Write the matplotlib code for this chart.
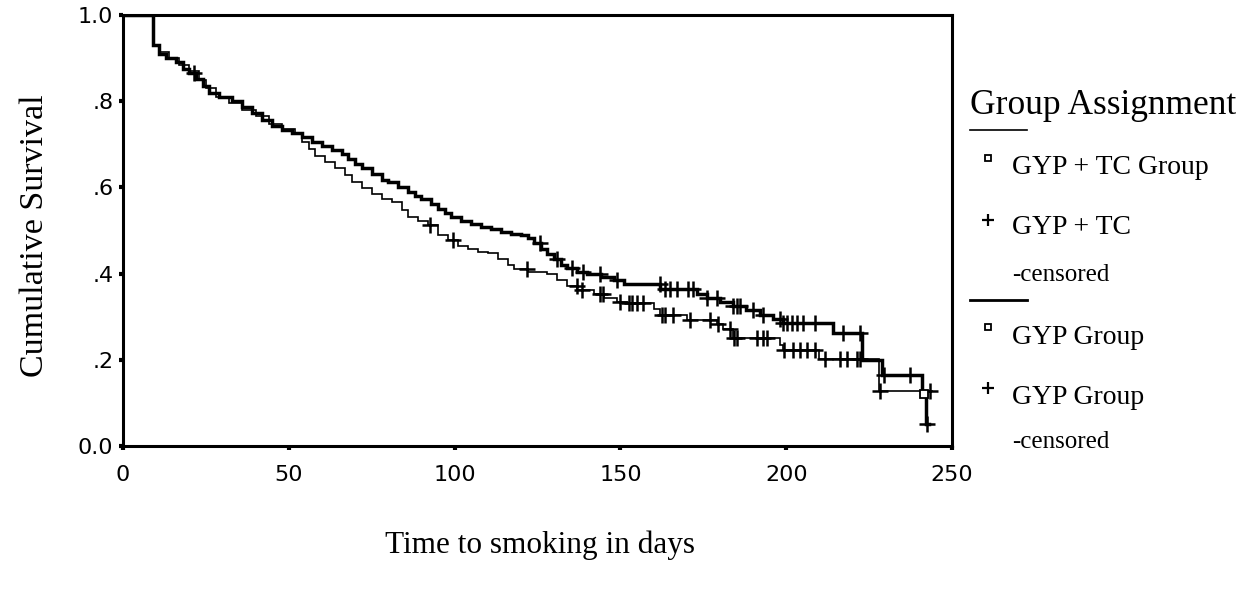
import numpy as np
import matplotlib
matplotlib.use('Agg')
import matplotlib.pyplot as plt
from matplotlib.lines import Line2D

# Kaplan-Meier steps: day of event, cumulative survival after it
gyp_tc_days = [0, 9, 11, 14, 17, 20, 23, 25, 28, 32, 36, 40, 44, 48, 52, 54, 56, 58,
               61, 64, 67, 69, 72, 75, 78, 81, 84, 86, 89, 92, 95, 98, 101, 104, 107,
               110, 113, 116, 118, 122, 128, 131, 134, 137, 142, 145, 149, 152, 160,
               162, 170, 179, 181, 184, 198, 199, 210, 228]
gyp_tc_surv = [1.0, 0.93, 0.915, 0.90, 0.885, 0.87, 0.85, 0.83, 0.81, 0.795, 0.78,
               0.765, 0.748, 0.735, 0.725, 0.705, 0.69, 0.672, 0.658, 0.645, 0.628,
               0.612, 0.598, 0.585, 0.572, 0.565, 0.548, 0.532, 0.522, 0.512, 0.49,
               0.478, 0.465, 0.456, 0.45, 0.447, 0.435, 0.42, 0.41, 0.404, 0.40,
               0.385, 0.372, 0.362, 0.352, 0.343, 0.335, 0.332, 0.318, 0.304, 0.292,
               0.282, 0.272, 0.25, 0.234, 0.223, 0.202, 0.128]
gyp_tc_end = 244
gyp_tc_censored = [92.6, 99.5, 121.8, 136.9, 138.4, 143.8, 144.8, 149.9, 152.5, 153.5,
                   155, 156.8, 162.5, 163.4, 165.9, 171, 177, 179.4, 183, 184.2,
                   185.2, 191.2, 193, 194.2, 199.2, 202, 204.2, 206.3, 208.7, 211.7,
                   216.2, 218.3, 221.3, 222.2, 228.4, 243.4]

gyp_days = [0, 9, 11, 13, 16, 18, 20, 22, 24, 26, 29, 33, 36, 39, 42, 45, 48, 51, 54,
            57, 60, 63, 66, 68, 70, 72, 75, 78, 80, 83, 86, 88, 90, 93, 95, 97, 99,
            102, 105, 108, 111, 114, 117, 120, 122, 124, 126, 128, 130, 132, 134, 137,
            140, 144, 148, 151, 162, 173, 176, 180, 184, 188, 192, 196, 199, 214, 223,
            229, 241, 242.3]
gyp_surv = [1.0, 0.93, 0.91, 0.90, 0.89, 0.875, 0.865, 0.852, 0.835, 0.82, 0.81, 0.80,
            0.787, 0.773, 0.757, 0.742, 0.733, 0.726, 0.716, 0.705, 0.696, 0.687,
            0.677, 0.665, 0.655, 0.645, 0.632, 0.617, 0.612, 0.60, 0.59, 0.58, 0.572,
            0.562, 0.55, 0.54, 0.531, 0.522, 0.515, 0.508, 0.503, 0.497, 0.493, 0.489,
            0.483, 0.472, 0.457, 0.445, 0.433, 0.42, 0.412, 0.404, 0.398, 0.392,
            0.385, 0.376, 0.364, 0.352, 0.343, 0.335, 0.325, 0.315, 0.305, 0.294,
            0.285, 0.262, 0.20, 0.165, 0.12, 0.05]
gyp_end = 243
gyp_censored = [21.5, 125.8, 130.8, 135.4, 138.7, 143.8, 149, 161.9, 163.4, 165, 167,
                170.4, 171.9, 176.1, 179.1, 184, 185.2, 186.1, 190, 193, 198.1, 199,
                200.2, 201.7, 203.2, 205.1, 208.7, 217.1, 222.2, 229.4, 237.3, 242.6]
gyp_event_day = 241.6

x_ticks = [0, 50, 100, 150, 200, 250]
y_ticks = [0.0, 0.2, 0.4, 0.6, 0.8, 1.0]
y_tick_labels = ['0.0', '.2', '.4', '.6', '.8', '1.0']


def surv_at(days, surv, t):
    idx = np.searchsorted(days, t, side='right') - 1
    return np.asarray(surv)[idx]


W, H = 1252, 589
fig = plt.figure(figsize=(W / 100, H / 100), dpi=100)
ax = fig.add_axes([123 / W, 1 - 446 / H, (952 - 123) / W, (446 - 15) / H])

serif = ['Liberation Serif', 'DejaVu Serif']

curves = [
    (gyp_tc_days, gyp_tc_surv, gyp_tc_end, gyp_tc_censored, 1.2),
    (gyp_days, gyp_surv, gyp_end, gyp_censored, 2.5),
]
for days, surv, end, cens, lw in curves:
    ax.step(list(days) + [end], list(surv) + [surv[-1]], where='post',
            color='black', lw=lw, solid_joinstyle='miter')
    cens = np.array(cens)
    ax.plot(cens, surv_at(days, surv, cens), ls='none', marker='+',
            ms=11, mew=1.8, color='black')

# open square where the last event falls
ax.plot([gyp_event_day], [surv_at(gyp_days, gyp_surv, gyp_event_day - 0.4)],
        ls='none', marker='s', ms=6, mfc='white', mec='black', mew=1.3)

ax.set_xlim(0, 250)
ax.set_ylim(0, 1.0)
ax.set_xticks(x_ticks)
ax.set_xticklabels([str(t) for t in x_ticks])
ax.set_yticks(y_ticks)
ax.set_yticklabels(y_tick_labels)
ax.tick_params(direction='out', length=3, width=3, labelsize=16, pad=4)
ax.tick_params(axis='x', pad=11)
for s in ax.spines.values():
    s.set_linewidth(2.2)

fig.text(35 / W, 1 - 236 / H, 'Cumulative Survival', rotation=90, ha='center',
         va='center', fontsize=24.5, family=serif)
fig.text(540 / W, 1 - 545 / H, 'Time to smoking in days', ha='center',
         va='center', fontsize=22.5, family=serif)

# legend built by hand at the right side
def fx(px):
    return px / W


def fy(py):
    return 1 - py / H


fig.text(fx(970), fy(105), 'Group Assignment', ha='left', va='center',
         fontsize=25.5, family=serif)
for y_line, lw in [(130, 1.2), (300, 2.0)]:
    fig.add_artist(Line2D([fx(970), fx(1027)], [fy(y_line), fy(y_line)],
                          color='black', lw=lw))

entries = [
    (158, 's', 168, 'GYP + TC Group', None),
    (220, '+', 228, 'GYP + TC', 275),
    (327, 's', 337, 'GYP Group', None),
    (388, '+', 398, 'GYP Group', 442),
]
for my, mk, ty, label, cy in entries:
    if mk == 's':
        fig.add_artist(Line2D([fx(988)], [fy(my)], marker='s', ms=4,
                              mfc='white', mec='black', mew=1.3, ls='none'))
    else:
        fig.add_artist(Line2D([fx(988)], [fy(my)], marker='+', ms=9,
                              mew=1.6, color='black', ls='none'))
    fig.text(fx(1012), fy(ty), label, ha='left', va='center', fontsize=20,
             family=serif)
    if cy is not None:
        fig.text(fx(1012), fy(cy), '-censored', ha='left', va='center',
                 fontsize=18, family=serif)

fig.savefig('out.png', dpi=100, facecolor='white')
